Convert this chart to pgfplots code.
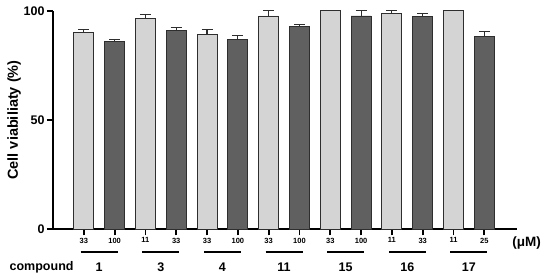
\documentclass[border=0pt]{standalone}
\usepackage{fontspec}
\setmainfont{Liberation Sans}
\usepackage{pgfplots}
\pgfplotsset{compat=1.18}
\definecolor{lightbar}{HTML}{D4D4D4}
\definecolor{darkbar}{HTML}{606060}
\definecolor{edge}{HTML}{2E2E2E}

% x = bar slot, y = viability, e = upper error
\pgfplotstableread{
x y e
0 89.9 1.3
2 96.3 1.8
4 89.0 2.3
6 97.6 2.4
8 100.0 0.0
10 98.8 1.3
12 100.0 0.0
}\lighttab
\pgfplotstableread{
x y e
1 86.0 0.8
3 90.9 1.3
5 86.7 1.8
7 92.7 0.9
9 97.6 2.4
11 97.4 1.5
13 88.1 2.2
}\darktab

\begin{document}
\begin{tikzpicture}
\path[use as bounding box] (0,0) rectangle (550pt,-279pt);
\begin{axis}[
  at={(53pt,-229.3pt)}, anchor=south west,
  scale only axis,
  width=464pt, height=218.6pt,
  xmin=-1, xmax=14.06,
  ymin=0, ymax=100,
  axis x line*=bottom, axis y line*=left,
  axis line style={line width=1.8pt, black},
  x axis line style={-}, y axis line style={-},
  ytick={0,50,100},
  xtick={0,...,13},
  xticklabels={33,100,11,33,33,100,33,100,33,100,11,33,11,25},
  tick align=outside,
  major tick length=6pt,
  tick style={line width=1.8pt, black},
  /pgf/number format/assume math mode=true,
  yticklabel style={font=\fontsize{12.5}{12.5}\selectfont\bfseries, xshift=1pt},
  xticklabel style={font=\fontsize{7.5}{8}\selectfont\bfseries, yshift=1pt},
  ylabel={Cell viabiliaty (\%)},
  ylabel style={font=\fontsize{14.5}{14.5}\selectfont\bfseries, at={(axis description cs:-0.084,0.5)}, anchor=center},
  ybar, bar width=20pt, bar shift=0pt,
  clip=false,
]
\addplot[fill=lightbar, draw=edge, line width=0.9pt,
  error bars/.cd, y dir=plus, y explicit,
  error bar style={line width=1.1pt, edge},
  error mark options={rotate=90, line width=1.1pt, mark size=5.5pt, edge}]
  table[x=x, y=y, y error=e] {\lighttab};
\addplot[fill=darkbar, draw=edge, line width=0.9pt,
  error bars/.cd, y dir=plus, y explicit,
  error bar style={line width=1.1pt, edge},
  error mark options={rotate=90, line width=1.1pt, mark size=5.5pt, edge}]
  table[x=x, y=y, y error=e] {\darktab};

% group underlines and compound names
\draw[line width=1.2pt] (axis cs:-0.1,-10.4) -- (axis cs:1.1,-10.4);
\draw[line width=1.2pt] (axis cs:1.9,-10.4) -- (axis cs:3.1,-10.4);
\draw[line width=1.2pt] (axis cs:3.9,-10.4) -- (axis cs:5.1,-10.4);
\draw[line width=1.2pt] (axis cs:5.9,-10.4) -- (axis cs:7.1,-10.4);
\draw[line width=1.2pt] (axis cs:7.9,-10.4) -- (axis cs:9.1,-10.4);
\draw[line width=1.2pt] (axis cs:9.9,-10.4) -- (axis cs:11.1,-10.4);
\draw[line width=1.2pt] (axis cs:11.9,-10.4) -- (axis cs:13.1,-10.4);
\begin{scope}[every node/.style={font=\fontsize{12.5}{12.5}\selectfont\bfseries}]
\node at (axis cs:0.5,-17.3) {1};
\node at (axis cs:2.5,-17.3) {3};
\node at (axis cs:4.5,-17.3) {4};
\node at (axis cs:6.5,-17.3) {11};
\node at (axis cs:8.5,-17.3) {15};
\node at (axis cs:10.5,-17.3) {16};
\node at (axis cs:12.5,-17.3) {17};
\node at (axis cs:-1.37,-17.3) {compound};
\end{scope}
\node[font=\fontsize{13.5}{13.5}\selectfont\bfseries] at (axis cs:14.37,-6.4) {(μM)};
\end{axis}
\end{tikzpicture}
\end{document}
